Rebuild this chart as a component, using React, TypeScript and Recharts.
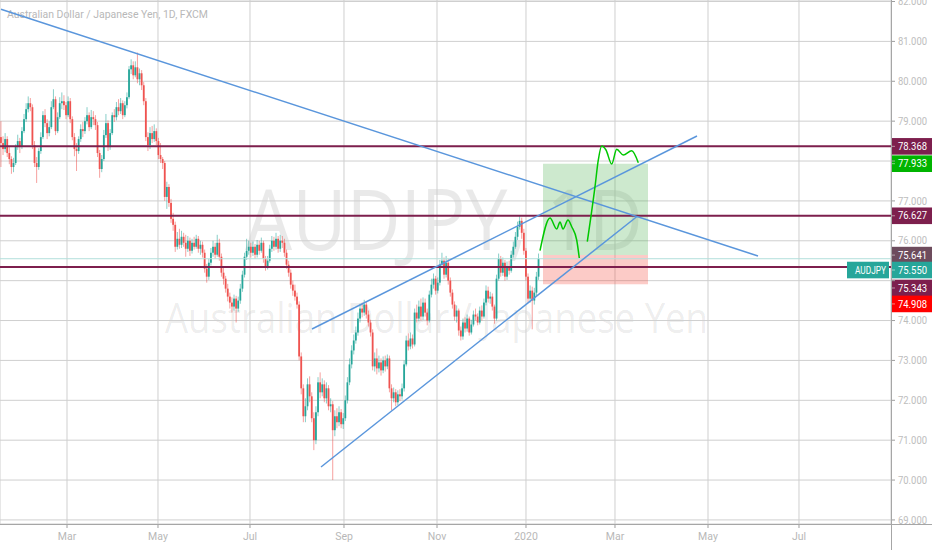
import React from 'react';
import {
  ComposedChart,
  Bar,
  Scatter,
  XAxis,
  YAxis,
  CartesianGrid,
  ReferenceLine,
  ReferenceArea,
} from 'recharts';

// AUDJPY daily bars: [high, low, close]. Open = previous close.
const firstOpen = 78.6;
const bars: [number, number, number][] = [
  [79.00, 77.85, 78.45], [78.62, 78.15, 78.30], [78.70, 78.22, 78.55], [78.62, 78.10, 78.20], [78.35, 77.92, 78.05], [78.12, 77.68, 77.85], [78.08, 77.72, 77.95], [78.42, 77.90, 78.35], [78.66, 78.28, 78.50], [78.58, 78.20, 78.35],
  [78.85, 78.30, 78.75], [79.18, 78.70, 79.05], [79.45, 78.98, 79.30], [79.62, 79.22, 79.45], [79.58, 79.25, 79.35], [79.42, 78.30, 78.40], [78.50, 77.85, 77.95], [78.10, 77.45, 77.85], [78.32, 77.78, 78.25], [78.72, 78.18, 78.60],
  [79.25, 78.55, 79.15], [79.30, 78.85, 78.95], [79.05, 78.55, 78.70], [79.00, 78.62, 78.85], [79.50, 78.80, 79.35], [79.80, 79.30, 79.55], [79.62, 78.65, 78.75], [79.22, 78.70, 79.10], [79.60, 79.05, 79.45], [79.72, 79.30, 79.50],
  [79.65, 79.28, 79.40], [79.48, 79.05, 79.15], [79.62, 79.10, 79.50], [79.58, 78.95, 79.05], [79.12, 78.52, 78.60], [78.70, 78.12, 78.30], [78.45, 77.75, 78.25], [78.62, 78.18, 78.55], [78.92, 78.48, 78.80], [78.98, 78.60, 78.75],
  [79.10, 78.68, 79.00], [79.35, 78.92, 79.15], [79.22, 78.75, 78.85], [79.28, 78.80, 79.10], [79.25, 78.90, 79.05], [79.15, 78.78, 78.90], [78.98, 78.10, 78.20], [78.28, 77.58, 77.80], [78.15, 77.72, 78.05], [78.78, 78.00, 78.65],
  [79.18, 78.58, 78.95], [79.02, 78.25, 78.35], [78.80, 78.28, 78.70], [79.22, 78.65, 79.15], [79.30, 78.98, 79.10], [79.48, 79.02, 79.35], [79.55, 79.15, 79.25], [79.58, 79.18, 79.45], [79.52, 79.05, 79.15], [79.50, 79.10, 79.40],
  [79.72, 79.32, 79.60], [80.38, 79.55, 80.30], [80.55, 80.18, 80.40], [80.50, 80.05, 80.15], [80.50, 80.10, 80.35], [80.72, 79.95, 80.05], [80.32, 79.90, 80.20], [80.28, 79.78, 79.90], [79.98, 79.40, 79.50], [79.58, 78.50, 78.60],
  [78.72, 78.25, 78.40], [78.85, 78.30, 78.70], [78.88, 78.45, 78.55], [78.92, 78.48, 78.75], [78.82, 78.40, 78.50], [78.58, 78.05, 78.15], [78.45, 77.95, 78.05], [78.10, 77.80, 77.95], [78.00, 77.00, 77.10], [77.48, 76.80, 77.35],
  [77.42, 76.85, 76.95], [77.05, 76.45, 76.55], [76.70, 76.25, 76.40], [76.48, 75.72, 75.85], [76.22, 75.78, 76.05], [76.30, 75.80, 75.90], [76.25, 75.82, 76.10], [76.20, 75.85, 75.95], [76.15, 75.60, 75.80], [76.12, 75.72, 76.00],
  [76.08, 75.62, 75.75], [76.05, 75.68, 75.95], [76.10, 75.78, 75.85], [76.15, 75.80, 76.05], [76.12, 75.70, 75.80], [76.00, 75.65, 75.90], [75.98, 75.58, 75.70], [75.78, 75.20, 75.30], [75.42, 74.95, 75.10], [75.55, 75.02, 75.45],
  [75.82, 75.38, 75.70], [76.00, 75.60, 75.85], [75.95, 75.55, 75.65], [76.15, 75.60, 75.95], [76.05, 75.50, 75.60], [75.68, 75.10, 75.20], [75.35, 74.90, 75.05], [75.12, 74.70, 74.80], [74.92, 74.48, 74.60], [74.70, 74.30, 74.45],
  [74.58, 74.20, 74.35], [74.65, 74.25, 74.55], [74.62, 73.95, 74.30], [74.60, 74.22, 74.50], [74.92, 74.42, 74.80], [75.25, 74.72, 75.15], [75.70, 75.08, 75.60], [76.05, 75.52, 75.75], [76.00, 75.65, 75.85], [75.95, 75.58, 75.70],
  [75.98, 75.62, 75.85], [75.92, 75.55, 75.65], [76.02, 75.58, 75.90], [76.00, 75.65, 75.75], [76.08, 75.70, 75.95], [76.00, 75.45, 75.55], [75.62, 75.25, 75.35], [75.62, 75.28, 75.50], [75.90, 75.45, 75.80], [76.12, 75.72, 76.00],
  [76.10, 75.75, 75.85], [76.20, 75.78, 76.05], [76.12, 75.70, 75.80], [76.15, 75.72, 76.00], [76.12, 75.82, 75.95], [76.05, 75.60, 75.70], [75.78, 75.30, 75.40], [75.50, 75.10, 75.20], [75.28, 74.80, 74.90], [75.00, 74.62, 74.75],
  [74.90, 74.50, 74.60], [74.70, 74.30, 74.40], [74.48, 73.00, 73.10], [73.20, 72.15, 72.30], [72.40, 71.45, 71.60], [72.05, 71.45, 71.85], [72.55, 71.75, 72.40], [72.60, 71.95, 72.10], [72.20, 71.45, 71.55], [71.70, 70.75, 71.00],
  [71.85, 70.90, 71.70], [72.58, 71.60, 72.45], [72.70, 72.05, 72.20], [72.55, 72.10, 72.40], [72.50, 71.95, 72.05], [72.45, 71.92, 72.30], [72.38, 71.75, 71.85], [72.05, 71.70, 71.90], [71.98, 70.00, 71.25], [71.75, 71.10, 71.60],
  [71.80, 71.30, 71.45], [71.85, 71.35, 71.70], [71.78, 71.30, 71.40], [71.68, 71.28, 71.55], [72.12, 71.48, 72.00], [72.58, 71.92, 72.45], [73.05, 72.38, 72.90], [73.38, 72.80, 73.25], [73.65, 73.15, 73.50], [73.85, 73.42, 73.70],
  [74.20, 73.62, 74.05], [74.42, 73.95, 74.30], [74.45, 74.08, 74.20], [74.52, 74.12, 74.40], [74.48, 74.05, 74.15], [74.25, 73.85, 73.95], [74.02, 73.60, 73.70], [73.78, 72.75, 72.85], [73.20, 72.72, 73.05], [73.30, 72.65, 72.80],
  [73.12, 72.70, 72.95], [73.05, 72.62, 72.75], [73.10, 72.68, 73.00], [73.12, 72.72, 72.85], [73.15, 72.78, 73.05], [73.12, 72.20, 72.30], [72.40, 71.75, 72.05], [72.32, 71.95, 72.20], [72.28, 71.85, 71.95], [72.25, 71.88, 72.15],
  [72.28, 71.98, 72.10], [72.42, 72.02, 72.30], [73.00, 72.22, 72.90], [73.62, 72.85, 73.50], [73.68, 73.25, 73.35], [73.70, 73.28, 73.55], [73.65, 73.30, 73.40], [74.30, 73.35, 74.20], [74.40, 73.95, 74.05], [74.50, 73.98, 74.35],
  [74.55, 74.00, 74.10], [74.58, 74.02, 74.45], [74.55, 74.10, 74.20], [74.30, 73.88, 74.00], [74.75, 73.95, 74.65], [75.05, 74.58, 74.90], [75.18, 74.80, 75.05], [75.12, 74.65, 74.75], [75.08, 74.68, 74.95], [75.52, 74.88, 75.40],
  [75.70, 75.32, 75.50], [75.58, 75.05, 75.15], [75.62, 75.08, 75.45], [75.55, 74.90, 75.00], [75.08, 74.60, 74.70], [74.78, 74.30, 74.40], [74.48, 74.00, 74.10], [74.38, 73.95, 74.25], [74.30, 73.62, 73.75], [73.85, 73.50, 73.60],
  [74.05, 73.52, 73.95], [74.08, 73.70, 73.80], [74.15, 73.72, 74.05], [74.10, 73.62, 73.70], [74.02, 73.65, 73.90], [74.25, 73.85, 74.15], [74.30, 74.00, 74.10], [74.18, 73.88, 73.95], [74.35, 73.90, 74.25], [74.38, 74.00, 74.10],
  [74.55, 74.05, 74.45], [74.88, 74.38, 74.75], [74.85, 74.45, 74.55], [74.72, 74.42, 74.60], [74.68, 74.25, 74.35], [74.40, 73.92, 74.05], [75.15, 74.00, 75.05], [75.68, 75.00, 75.55], [75.62, 75.10, 75.20], [75.58, 75.12, 75.45],
  [75.52, 75.00, 75.10], [75.48, 75.02, 75.35], [75.50, 75.15, 75.25], [75.75, 75.20, 75.65], [75.98, 75.58, 75.85], [76.22, 75.80, 76.10], [76.48, 76.02, 76.35], [76.62, 76.28, 76.50], [76.58, 76.05, 76.20], [76.30, 75.65, 75.75],
  [75.82, 75.00, 75.10], [75.18, 74.45, 74.55], [74.88, 74.45, 74.75], [74.85, 73.78, 74.50], [74.82, 74.40, 74.70], [75.22, 74.62, 75.10], [75.68, 75.02, 75.55],
];

// time axis, in bar units (bar 250 = 1 Jan 2020)
const monthTicks = [31.43, 74.76, 118.57, 163.33, 207.62, 250, 292.38, 336.67, 380];
const monthLabels = ['Mar', 'May', 'Jul', 'Sep', 'Nov', '2020', 'Mar', 'May', 'Jul'];
const priceTicks = [69, 70, 71, 72, 73, 74, 75, 76, 77, 78, 79, 80, 81, 82];
// scale labels that sit under a price tag are not drawn
const coveredTicks = [75, 78];

// drawings
const levels = [78.368, 76.627, 75.343];
const lastPrice = 75.55;
const targetPrice = 77.933;
const entryPrice = 75.641;
const stopPrice = 74.908;
const boxFrom = 258.1;
const boxTo = 308.1;

const resistanceLine = [{ x: 0, y: 81.804 }, { x: 360.48, y: 75.618 }];
const channelTop = [{ x: 148.1, y: 73.788 }, { x: 331.43, y: 78.627 }];
const channelBottom = [{ x: 152.38, y: 70.328 }, { x: 302.86, y: 76.609 }];

const sketchFirst = [
  { i: 256.67, p: 75.751 }, { i: 261.43, p: 76.571 }, { i: 264.62, p: 76.295 }, { i: 266.19, p: 76.471 },
  { i: 267.62, p: 76.295 }, { i: 270.0, p: 76.521 }, { i: 271.76, p: 76.353 }, { i: 274.14, p: 76.02 },
  { i: 275.38, p: 75.568 },
];
const sketchSecond = [
  { i: 279.19, p: 75.977 }, { i: 282.86, p: 77.356 }, { i: 284.43, p: 78.026 }, { i: 286.05, p: 78.377 },
  { i: 288.1, p: 78.276 }, { i: 290.81, p: 77.925 }, { i: 293.19, p: 78.294 }, { i: 296.33, p: 78.151 },
  { i: 300.33, p: 78.259 }, { i: 303.48, p: 77.958 },
];

const title = 'Australian Dollar / Japanese Yen, 1D, FXCM';
const watermark = 'AUDJPY, 1D';
const watermarkSub = 'Australian Dollar / Japanese Yen';

const UP = '#26a69a';
const DOWN = '#ef5350';
const PURPLE = '#7d1f4d';
const BLUE = '#5a96dc';
const SKETCH = '#00c800';
const FONT = 'Roboto, sans-serif';

const candles = bars.map(([h, l, c], i) => ({
  i,
  o: i === 0 ? firstOpen : bars[i - 1][2],
  h,
  l,
  c,
}));

function Candle(props: any) {
  const { x, y, width, height, payload } = props;
  if (!payload || height == null) return null;
  const { o, h, l, c } = payload;
  const top = Math.min(y, y + height);
  const span = Math.abs(height);
  const py = (v: number) => top + ((h - v) / (h - l)) * span;
  const cx = x + width / 2;
  const color = c >= o ? UP : DOWN;
  const bTop = py(Math.max(o, c));
  const bBot = py(Math.min(o, c));
  return (
    <g>
      <line x1={cx} x2={cx} y1={top} y2={top + span} stroke={color} strokeOpacity={0.55} strokeWidth={1} />
      <rect x={cx - 0.9} y={bTop} width={1.8} height={Math.max(bBot - bTop, 0.8)} fill={color} />
    </g>
  );
}

function PriceTick({ x, y, payload }: any) {
  if (coveredTicks.includes(payload.value)) return null;
  return (
    <text x={x} y={y + 3.6} fill="#bdbdbd" fontSize={10.5} fontFamily={FONT} textLength={29} lengthAdjust="spacingAndGlyphs">
      {Number(payload.value).toFixed(3)}
    </text>
  );
}

function PriceTag({ viewBox, tagText, tagFill, shiftY = 0, symbol }: any) {
  if (!viewBox) return null;
  const x = viewBox.x + viewBox.width;
  const y = viewBox.y + shiftY;
  return (
    <g>
      {symbol && (
        <g>
          <rect x={x - 44} y={y - 8.3} width={42} height={16.6} fill={tagFill} />
          <text x={x - 36} y={y + 3.7} fill="#fff" fontSize={10.5} fontFamily={FONT} textLength={31} lengthAdjust="spacingAndGlyphs">
            {symbol}
          </text>
        </g>
      )}
      <rect x={x} y={y - 8.3} width={41} height={16.6} fill={tagFill} />
      <line x1={x} x2={x + 4} y1={y} y2={y} stroke="#fff" strokeOpacity={0.5} />
      <text x={x + 7} y={y + 3.7} fill="#fff" fontSize={10.5} fontFamily={FONT} textLength={29} lengthAdjust="spacingAndGlyphs">
        {tagText}
      </text>
    </g>
  );
}

const tags = [
  { v: levels[0], fill: PURPLE, shift: 0 },
  { v: targetPrice, fill: '#00b400', shift: 0 },
  { v: levels[1], fill: PURPLE, shift: 0 },
  { v: entryPrice, fill: '#6d4c5d', shift: 0 },
  { v: lastPrice, fill: UP, shift: 11.3, symbol: 'AUDJPY' },
  { v: levels[2], fill: PURPLE, shift: 21 },
  { v: stopPrice, fill: '#ff0000', shift: 19.6 },
];

const noPoint = () => <g />;

export default function App() {
  return (
    <div style={{ position: 'absolute', left: 0, top: 0, width: 932, height: 550, background: '#fff', overflow: 'hidden' }}>
      <svg width={932} height={550} style={{ position: 'absolute', left: 0, top: 0 }}>
        <text x={7} y={18} fontSize={11} fill="#b8b8b8" fontFamily={FONT} textLength={201} lengthAdjust="spacingAndGlyphs">
          {title}
        </text>
        <text x={245} y={250} fontSize={84} fill="#000" fillOpacity={0.085} fontFamily="'Open Sans', sans-serif" textLength={398} lengthAdjust="spacingAndGlyphs">
          {watermark}
        </text>
        <text x={165} y={333} fontSize={42} fill="#000" fillOpacity={0.085} fontFamily="'Open Sans', sans-serif" textLength={543} lengthAdjust="spacingAndGlyphs">
          {watermarkSub}
        </text>
      </svg>
      <div style={{ position: 'absolute', left: 0, top: 0 }}>
        <ComposedChart width={932} height={550} data={candles} margin={{ top: 0, right: 0, bottom: 0, left: 0 }}>
          <CartesianGrid stroke="#cfcfcf" />
          <XAxis
            type="number"
            dataKey="i"
            domain={[-0.476, 423.81]}
            allowDataOverflow
            ticks={monthTicks}
            tickFormatter={(_v: number, idx: number) => monthLabels[idx]}
            axisLine={false}
            tickLine={{ stroke: '#9e9e9e' }}
            tickSize={4}
            tickMargin={5}
            height={26}
            interval={0}
            tick={{ fill: '#b8b8b8', fontSize: 10.5, fontFamily: FONT }}
          />
          <YAxis
            orientation="right"
            domain={[68.898, 82.038]}
            allowDataOverflow
            ticks={priceTicks}
            width={41}
            axisLine={false}
            tickLine={{ stroke: '#9e9e9e' }}
            tickSize={4}
            tickMargin={3}
            interval={0}
            tick={<PriceTick />}
          />
          <ReferenceArea x1={boxFrom} x2={boxTo} y1={entryPrice} y2={targetPrice} fill="#4caf50" fillOpacity={0.28} stroke="none" />
          <ReferenceArea x1={boxFrom} x2={boxTo} y1={stopPrice} y2={entryPrice} fill="#f44336" fillOpacity={0.28} stroke="none" />
          <Bar dataKey={(d: any) => [d.l, d.h]} shape={<Candle />} barSize={2} isAnimationActive={false} />
          <ReferenceLine y={lastPrice} stroke="#b2dfdb" strokeWidth={1} />
          {levels.map((v) => (
            <ReferenceLine key={v} y={v} stroke={PURPLE} strokeWidth={2} />
          ))}
          <ReferenceLine segment={resistanceLine} stroke={BLUE} strokeWidth={1.5} ifOverflow="visible" />
          <ReferenceLine segment={channelTop} stroke={BLUE} strokeWidth={1.5} ifOverflow="visible" />
          <ReferenceLine segment={channelBottom} stroke={BLUE} strokeWidth={1.5} ifOverflow="visible" />
          <Scatter
            data={sketchFirst}
            dataKey="p"
            line={{ stroke: SKETCH, strokeWidth: 1.5 }}
            lineJointType="monotoneX"
            shape={noPoint}
            fill={SKETCH}
            isAnimationActive={false}
          />
          <Scatter
            data={sketchSecond}
            dataKey="p"
            line={{ stroke: SKETCH, strokeWidth: 1.5 }}
            lineJointType="monotoneX"
            shape={noPoint}
            fill={SKETCH}
            isAnimationActive={false}
          />
          {tags.map((t) => (
            <ReferenceLine
              key={'tag' + t.v}
              y={t.v}
              stroke="none"
              label={<PriceTag tagText={t.v.toFixed(3)} tagFill={t.fill} shiftY={t.shift} symbol={t.symbol} />}
            />
          ))}
        </ComposedChart>
      </div>
      <div style={{ position: 'absolute', left: 0, top: 524, width: 932, height: 1, background: '#a6a6a6' }} />
      <div style={{ position: 'absolute', left: 891, top: 0, width: 1, height: 550, background: '#a6a6a6' }} />
    </div>
  );
}
